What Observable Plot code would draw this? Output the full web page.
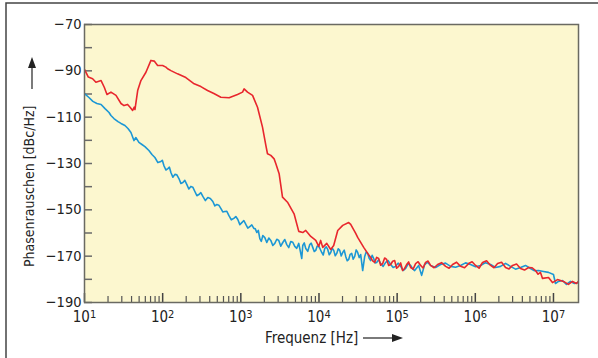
<!DOCTYPE html>
<html>
<head>
<meta charset="utf-8">
<script src="https://cdn.jsdelivr.net/npm/d3@7"></script>
<script src="https://cdn.jsdelivr.net/npm/@observablehq/plot@0.6"></script>
<style>
  html, body { margin: 0; padding: 0; background: #ffffff; }
  #chart { width: 598px; height: 358px; }
</style>
</head>
<body>
<div id="chart"></div>
<script>
// ---- data ----
const redHz = [10, 11.2, 12.7, 14.0, 16.3, 17.9, 19.4, 21.8, 25.3, 29.3, 32.0, 35.6, 38.5, 41.3, 43.3, 44.2, 47.9, 52.7, 61.1, 70.8, 78.0, 86.2, 99.8, 110, 115.7, 127.5, 155, 198, 253, 308, 375, 452, 555, 708, 907, 1052, 1102, 1218, 1413, 1635, 1893, 2090, 2194, 2418, 2667, 2800, 3090, 3413, 3955, 4800, 5510, 6200, 6770, 7850, 9100, 9930, 10500, 11170, 12570, 14130, 15420, 17370, 20130, 23990, 25450, 29500, 31270, 37330, 41980, 45850, 51550, 58000, 65300, 73400, 82600, 92900, 104500, 117500, 132200, 148800, 172300, 199500, 231000, 267800, 329500, 417000, 512000, 648000, 820000, 1008000, 1238000, 1567000, 1927000, 2437000, 2995000, 3790000, 4800000, 5890000, 6820000, 7240000, 8640000, 9710000, 11250000, 13420000, 15550000, 17500000, 19680000, 20900000];
const redDb = [-89.4, -92.7, -93.4, -94.9, -94.2, -97.1, -100.2, -99.2, -100.6, -104.1, -105.0, -104.5, -105.8, -107.1, -105.7, -106.7, -98.5, -94.2, -90.6, -85.5, -85.8, -87.7, -87.7, -88.4, -89.1, -89.9, -91.3, -92.9, -95.6, -96.8, -98.5, -99.8, -101.4, -101.6, -100.2, -99.2, -97.8, -99.2, -100.6, -105.7, -114.3, -122.2, -125.8, -126.5, -128.0, -130.0, -134.4, -144.5, -146.7, -151.7, -159.3, -159.8, -158.9, -161.5, -163.2, -165.8, -163.2, -166.2, -164.5, -167.1, -165.4, -158.9, -156.7, -155.5, -156.3, -160.2, -161.9, -166.2, -168.8, -170.6, -172.7, -171.0, -173.2, -171.4, -173.6, -171.9, -174.4, -176.2, -173.6, -174.9, -173.2, -174.0, -172.7, -174.0, -173.6, -174.4, -173.6, -174.4, -173.2, -174.0, -172.7, -174.0, -173.2, -174.9, -174.0, -175.3, -174.9, -176.2, -177.0, -179.6, -179.2, -181.4, -180.1, -180.9, -182.2, -180.9, -181.8, -180.9];
// extra noise readings of the red trace (plateau)
const redHzNoise = [48600, 54700, 61500, 69200, 77900, 87600, 98500, 110900, 124600, 140300, 160100, 185400, 214700, 248700, 297000, 370000, 462000, 576000, 729000, 910000, 1117000, 1393000, 1737000, 2166000, 2700000, 3370000, 4260000, 5340000, 6350000];
const redDbNoise = [-172.0, -170.5, -173.9, -170.8, -174.0, -172.2, -175.2, -172.9, -175.3, -172.5, -175.6, -172.4, -175.1, -172.1, -175.0, -172.8, -175.2, -172.6, -175.0, -172.4, -175.2, -172.0, -175.0, -172.6, -175.5, -173.4, -176.0, -175.0, -177.8];

const blueHz = [10, 11.4, 12.8, 14.4, 16.3, 18.3, 20.6, 21.8, 23.8, 26.8, 29.3, 32.9, 36.0, 39.3, 42.9, 45.5, 49.7, 54.3, 59.3, 66.7, 72.9, 79.6, 86.9, 95.0, 103.7, 116.7, 127.5, 143.4, 161.4, 181.5, 204.2, 229.6, 258.2, 290.4, 326.6, 378.4, 438.5, 493.2, 554.7, 624.1, 702.1, 813.6, 915.5, 1030, 1159, 1303, 1466, 1601, 1750, 1911, 2149, 2418, 2720, 3059, 3441, 3872, 4355, 4898, 5510, 6020, 6200, 6772, 7621, 8320, 9085, 9930, 10840, 11840, 12940, 14130, 15440, 16870, 18420, 20120, 21980, 23990, 26220, 28640, 31270, 34170, 36230, 38440, 41980, 45850, 50100, 54700, 61500, 71300, 82600, 95700, 110900, 128500, 148800, 167500, 188400, 205700, 224600, 267800, 359400, 482700, 648000, 869700, 1167000, 1567000, 2103000, 2821000, 3787000, 5082000, 6430000, 7449000, 8634000, 10000000, 10610000, 11590000, 13030000, 14650000, 16480000, 18530000, 20840000];
const blueDb = [-99.8, -101.5, -103.2, -104.1, -104.5, -106.3, -108.0, -109.3, -110.6, -111.9, -112.7, -113.6, -114.9, -116.6, -120.1, -118.8, -120.9, -121.8, -122.7, -124.4, -126.1, -127.4, -129.6, -129.1, -130.9, -132.2, -133.9, -134.7, -136.5, -138.2, -139.1, -139.9, -142.1, -143.4, -144.2, -144.7, -146.4, -147.7, -149.4, -150.7, -152.4, -153.7, -154.2, -155.5, -156.3, -157.2, -158.0, -159.8, -162.4, -161.1, -164.1, -163.2, -164.5, -163.2, -164.1, -165.0, -163.7, -165.8, -164.5, -171.0, -165.4, -166.7, -165.0, -166.2, -167.5, -165.8, -168.4, -166.7, -167.1, -168.4, -167.5, -168.8, -167.5, -168.4, -170.1, -171.4, -168.8, -170.1, -168.4, -169.3, -176.2, -170.1, -168.8, -171.9, -171.0, -172.7, -173.2, -172.7, -173.6, -174.4, -174.4, -175.3, -174.0, -176.2, -174.0, -178.3, -173.6, -174.0, -173.6, -174.4, -174.0, -173.6, -174.0, -173.6, -174.4, -174.4, -174.9, -175.3, -176.2, -176.6, -177.0, -177.9, -181.8, -180.9, -180.5, -182.2, -180.9, -181.8, -181.4];
// extra noise readings of the blue trace
const blueHzNoise = [99, 110, 122, 135, 152, 171, 192, 216, 243, 274, 308, 352, 407, 465, 523, 588, 662, 756, 863, 971, 1093, 1229, 1382, 1532, 1674, 1829, 2027, 2280, 2565, 2885, 3245, 3650, 4107, 4620, 5195, 6480, 7185, 7963, 8694, 9498, 10375, 11330, 12380, 13520, 14770, 16140, 17630, 19250, 21030, 22960, 25080, 27400, 29930, 32690, 40170, 43870, 47930, 52350, 58000, 66200, 76700, 88900, 103000, 119400, 138300, 157900, 245000, 310000, 416000, 559000, 750000, 1007000, 1352000, 1815000, 2436000, 3268000, 4387000, 5716000];
const blueDbNoise = [-128.6, -132.8, -131.6, -135.9, -134.9, -138.6, -137.3, -141.0, -140.2, -143.9, -142.6, -146.0, -145.1, -148.3, -148.0, -150.9, -150.6, -154.3, -152.9, -156.4, -154.6, -157.9, -156.5, -158.2, -158.9, -163.6, -162.0, -162.2, -165.4, -162.7, -165.7, -162.8, -166.3, -164.0, -166.6, -164.3, -167.9, -164.4, -168.0, -165.6, -167.0, -169.5, -166.0, -169.4, -166.6, -169.8, -166.8, -169.9, -167.4, -172.0, -169.2, -171.3, -167.3, -170.6, -168.2, -170.9, -169.6, -172.9, -171.5, -174.4, -171.9, -174.9, -173.0, -176.2, -173.3, -175.5, -172.6, -174.9, -173.0, -174.8, -172.9, -174.6, -172.8, -174.9, -173.1, -175.6, -174.0, -176.3];

const yLabelTicks = [-70, -90, -110, -130, -150, -170, -190];
const yAllTicks = [-70, -80, -90, -100, -110, -120, -130, -140, -150, -160, -170, -180, -190];
const xMajorTicks = [10, 100, 1000, 10000, 100000, 1000000, 10000000];
const xMinorTicks = [20,30,40,50,60,70,80,90, 200,300,400,500,600,700,800,900, 2000,3000,4000,5000,6000,7000,8000,9000, 20000,30000,40000,50000,60000,70000,80000,90000, 200000,300000,400000,500000,600000,700000,800000,900000, 2000000,3000000,4000000,5000000,6000000,7000000,8000000,9000000];
const xTitle = "Frequenz [Hz]";
const yTitle = "Phasenrauschen [dBc/Hz]";

// ---- build ----
function series(hz, db, hzN, dbN) {
  const pts = hz.map((f, i) => ({f, db: db[i]})).concat(hzN.map((f, i) => ({f, db: dbN[i]})));
  return pts.sort((a, b) => a.f - b.f);
}
const red = series(redHz, redDb, redHzNoise, redDbNoise);
const blue = series(blueHz, blueDb, blueHzNoise, blueDbNoise);

const FONT = "'Liberation Sans Narrow', 'DejaVu Sans Condensed', 'Liberation Sans', sans-serif";
const W = 598, H = 358, ML = 84, MR = 20, MT = 24, MB = 56;
const PW = W - ML - MR, PH = H - MT - MB;

const chart = Plot.plot({
  width: W, height: H,
  marginLeft: ML, marginRight: MR, marginTop: MT, marginBottom: MB,
  style: {fontFamily: FONT, fontSize: "15px", color: "#222", background: "transparent", overflow: "visible"},
  x: {type: "log", domain: [10, 2.09e7]},
  y: {domain: [-190, -70]},
  marks: [
    Plot.frame({fill: "#fcf7cf", stroke: null}),
    Plot.tickY(yAllTicks, {y: d => d, stroke: "#6a6a6a", strokeWidth: 1.5, insetRight: PW - 8}),
    Plot.tickX(xMinorTicks, {x: d => d, stroke: "#555", strokeWidth: 1.2, insetTop: PH - 6}),
    Plot.tickX(xMajorTicks, {x: d => d, stroke: "#444", strokeWidth: 1.5, insetTop: PH - 9}),
    Plot.line(blue, {x: "f", y: "db", stroke: "#1c97d5", strokeWidth: 1.6, clip: true}),
    Plot.line(red, {x: "f", y: "db", stroke: "#e8262d", strokeWidth: 1.6, clip: true}),
    Plot.frame({stroke: "#6a6a62", strokeWidth: 1.5}),
    Plot.axisY({ticks: yLabelTicks, tickSize: 0, tickPadding: 3, tickFormat: d => "\u2212" + Math.abs(d), label: null, fontSize: 14.5}),
    Plot.axisX({ticks: xMajorTicks, tickSize: 0, tickPadding: 9, tickFormat: d => "10^" + Math.round(Math.log10(d)), label: null, fontSize: 15})
  ]
});

document.getElementById("chart").appendChild(chart);

const ns = "http://www.w3.org/2000/svg";
// superscript exponents in x tick labels
chart.querySelectorAll("text").forEach(t => {
  const s = t.textContent;
  if (s.includes("^")) {
    const [b, e] = s.split("^");
    t.textContent = b;
    const ts = document.createElementNS(ns, "tspan");
    ts.setAttribute("dy", "-4.5");
    ts.setAttribute("font-size", "11");
    ts.textContent = e;
    t.appendChild(ts);
  }
});

const svg = d3.select(chart);
// outer frame (left and top)
svg.append("path").attr("d", "M6,358V3H598").attr("fill", "none").attr("stroke", "#444").attr("stroke-width", 1.5);

// x title + arrow
svg.append("text").attr("x", 265).attr("y", 343).attr("fill", "#222").attr("text-anchor", "start")
  .attr("font-family", FONT).attr("font-size", 15).text(xTitle);
svg.append("line").attr("x1", 363).attr("y1", 338).attr("x2", 394).attr("y2", 338).attr("stroke", "#222").attr("stroke-width", 1.2);
svg.append("path").attr("d", "M403,338L392,334L392,342Z").attr("fill", "#222");

// y title + arrow
svg.append("text").attr("transform", "translate(34,267) rotate(-90)").attr("fill", "#222").attr("text-anchor", "start")
  .attr("font-family", FONT).attr("font-size", 14).text(yTitle);
svg.append("line").attr("x1", 32).attr("y1", 89).attr("x2", 32).attr("y2", 66).attr("stroke", "#222").attr("stroke-width", 1.2);
svg.append("path").attr("d", "M32,57L28,68L36,68Z").attr("fill", "#222");
</script>
</body>
</html>
